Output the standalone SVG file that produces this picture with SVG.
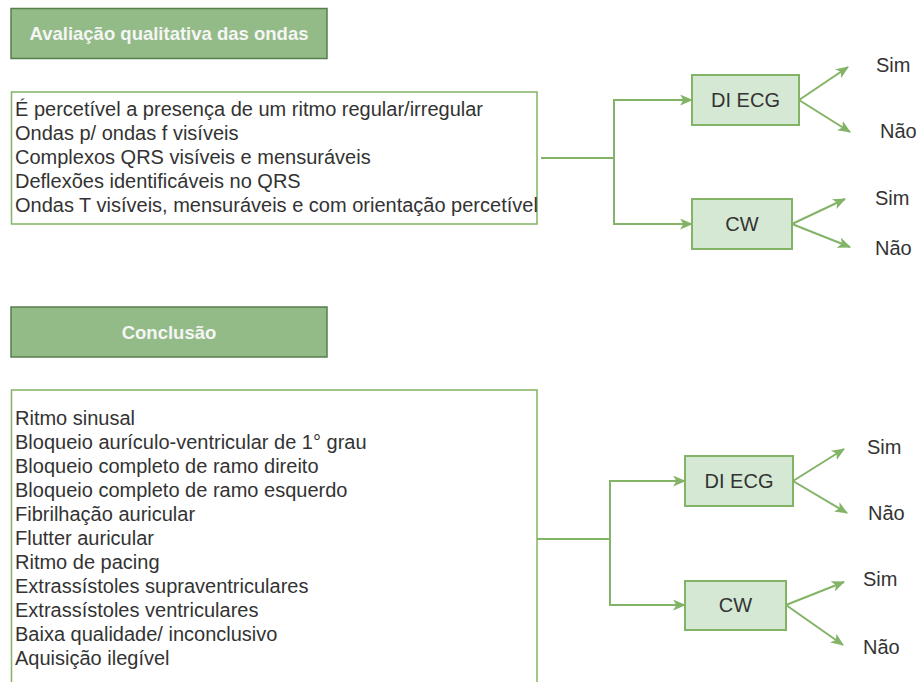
<svg xmlns="http://www.w3.org/2000/svg" width="916" height="682" viewBox="0 0 916 682">
<style>
  .hdr { fill: #93bb87; stroke: #557f4b; stroke-width: 1.5; }
  .hdrt { font-family: "Liberation Sans", Arial, sans-serif; font-size: 18.5px; font-weight: bold; fill: #f5f5f5; text-anchor: middle; }
  .list { fill: #ffffff; stroke: #82b366; stroke-width: 1.5; }
  .lt { font-family: "Liberation Sans", Arial, sans-serif; font-size: 20px; fill: #333333; }
  .node { fill: #d5e8d4; stroke: #82b366; stroke-width: 2; }
  .nt { font-family: "Liberation Sans", Arial, sans-serif; font-size: 20px; fill: #333333; text-anchor: middle; }
  .lbl { font-family: "Liberation Sans", Arial, sans-serif; font-size: 20px; fill: #333333; }
  .c { fill: none; stroke: #82b366; stroke-width: 2; }
  .ca { fill: none; stroke: #82b366; stroke-width: 2; marker-end: url(#arr); }
</style>
<defs>
  <marker id="arr" viewBox="0 0 12 10" refX="11" refY="5" markerWidth="13" markerHeight="11" markerUnits="userSpaceOnUse" orient="auto">
    <path d="M0,0 L12,5 L0,10 L3,5 z" fill="#82b366"/>
  </marker>
</defs>
<rect width="916" height="682" fill="#ffffff"/>

<g id="header1">
  <rect class="hdr" x="11" y="8.5" width="316" height="50"/>
  <text class="hdrt" x="169" y="40">Avaliação qualitativa das ondas</text>
</g>

<g id="criteria">
  <rect class="list" x="11.5" y="92" width="525.5" height="132"/>
  <text class="lt" x="15" y="116">É percetível a presença de um ritmo regular/irregular</text>
  <text class="lt" x="15" y="140">Ondas p/ ondas f visíveis</text>
  <text class="lt" x="15" y="164">Complexos QRS visíveis e mensuráveis</text>
  <text class="lt" x="15" y="188">Deflexões identificáveis no QRS</text>
  <text class="lt" x="15" y="212">Ondas T visíveis, mensuráveis e com orientação percetível</text>
</g>

<g id="diecg1">
  <rect class="node" x="692" y="75" width="107" height="50"/>
  <text class="nt" x="745.5" y="107">DI ECG</text>
</g>
<g id="cw1">
  <rect class="node" x="692" y="199" width="100" height="50"/>
  <text class="nt" x="742" y="231">CW</text>
</g>

<g id="header2">
  <rect class="hdr" x="11" y="307" width="316" height="50"/>
  <text class="hdrt" x="169" y="338.5">Conclusão</text>
</g>

<g id="conclusions">
  <rect class="list" x="11.5" y="390" width="525.5" height="300"/>
  <text class="lt" x="15" y="425">Ritmo sinusal</text>
  <text class="lt" x="15" y="449">Bloqueio aurículo-ventricular de 1° grau</text>
  <text class="lt" x="15" y="473">Bloqueio completo de ramo direito</text>
  <text class="lt" x="15" y="497">Bloqueio completo de ramo esquerdo</text>
  <text class="lt" x="15" y="521">Fibrilhação auricular</text>
  <text class="lt" x="15" y="545">Flutter auricular</text>
  <text class="lt" x="15" y="569">Ritmo de pacing</text>
  <text class="lt" x="15" y="593">Extrassístoles supraventriculares</text>
  <text class="lt" x="15" y="617">Extrassístoles ventriculares</text>
  <text class="lt" x="15" y="641">Baixa qualidade/ inconclusivo</text>
  <text class="lt" x="15" y="665">Aquisição ilegível</text>
</g>

<g id="diecg2">
  <rect class="node" x="685" y="456" width="108" height="50"/>
  <text class="nt" x="739" y="488">DI ECG</text>
</g>
<g id="cw2">
  <rect class="node" x="685" y="581" width="101" height="49"/>
  <text class="nt" x="735.5" y="612">CW</text>
</g>

<g id="labels">
  <text class="lbl" x="876" y="72">Sim</text>
  <text class="lbl" x="880" y="138">Não</text>
  <text class="lbl" x="875" y="205">Sim</text>
  <text class="lbl" x="875" y="255">Não</text>
  <text class="lbl" x="867" y="454">Sim</text>
  <text class="lbl" x="868" y="520">Não</text>
  <text class="lbl" x="863" y="586">Sim</text>
  <text class="lbl" x="863" y="654">Não</text>
</g>

<g id="connectors">
  <path class="c" d="M541,158 L614,158"/>
  <path class="ca" d="M614,158 L614,100 L692,100"/>
  <path class="ca" d="M614,158 L614,224 L692,224"/>
  <path class="ca" d="M799,100 L848,67"/>
  <path class="ca" d="M799,100 L850,132"/>
  <path class="ca" d="M792,224 L845,199"/>
  <path class="ca" d="M792,224 L850,247"/>

  <path class="c" d="M537,539 L610,539"/>
  <path class="ca" d="M610,539 L610,481 L685,481"/>
  <path class="ca" d="M610,539 L610,605 L685,605"/>
  <path class="ca" d="M793,481 L844,449"/>
  <path class="ca" d="M793,481 L847,513"/>
  <path class="ca" d="M786,605 L844,582"/>
  <path class="ca" d="M786,605 L843,645"/>
</g>
</svg>
